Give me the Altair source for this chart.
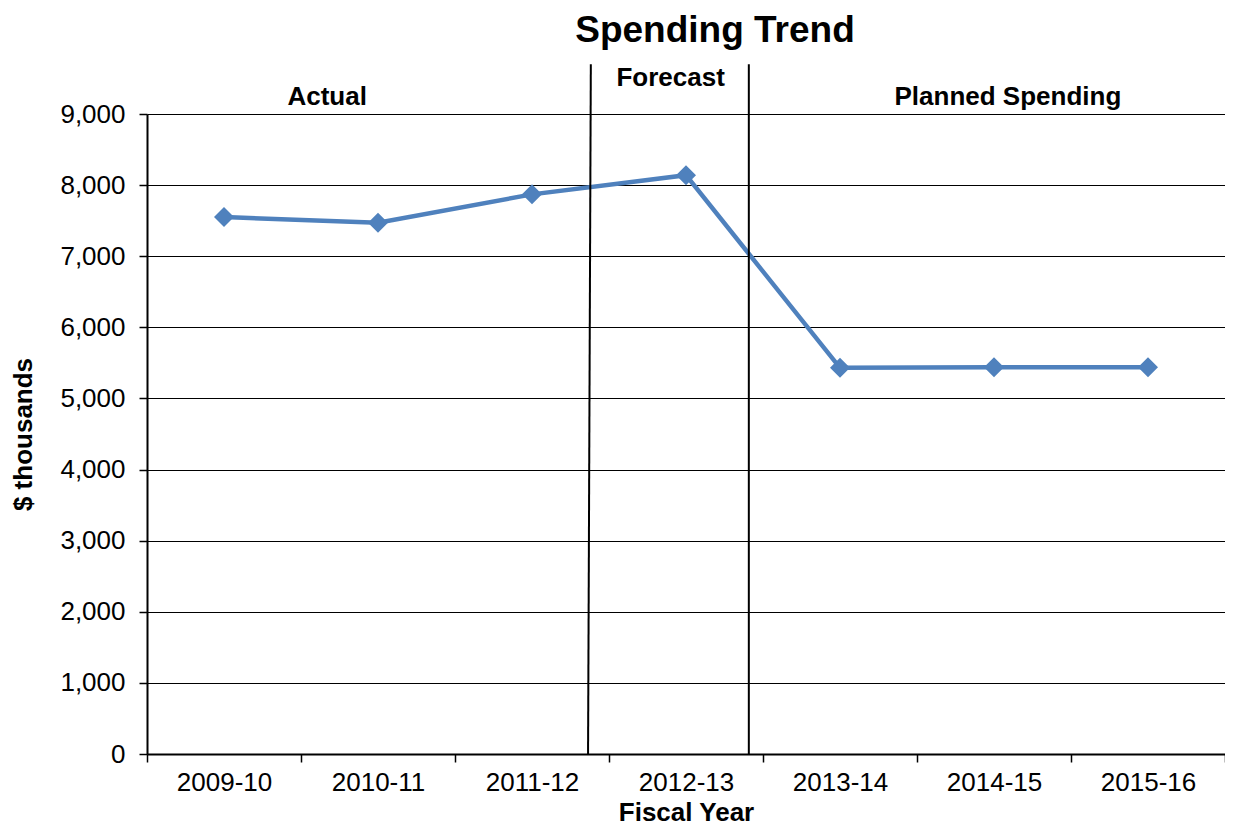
import altair as alt
import pandas as pd

# Data
years = ["2009-10", "2010-11", "2011-12", "2012-13", "2013-14", "2014-15", "2015-16"]
spending = [7550, 7470, 7870, 8140, 5430, 5440, 5440]

# Section dividers (in band units, 0..7 across the x axis) and labels
divider_top = [2.882, 3.908]
divider_bottom = [2.864, 3.908]
divider_ymax = [9700, 9700]
section_names = ["Actual", "Forecast", "Planned Spending"]
section_x = [1.17, 3.40, 5.59]
section_y = [9240, 9510, 9240]

FONT = "Liberation Sans"
BLUE = "#4F81BD"

df = pd.DataFrame({"year": years, "spending": spending})
div_df = pd.DataFrame({"xt": divider_top, "xb": divider_bottom, "yt": divider_ymax, "yb": [0, 0]})
lab_df = pd.DataFrame({"name": section_names, "x": section_x, "y": section_y})

yscale = alt.Scale(domain=[0, 9000], nice=False)

x_enc = alt.X(
    "year:N",
    sort=years,
    bandPosition=0.5,
    scale=alt.Scale(type="band", paddingInner=0, paddingOuter=0),
    axis=alt.Axis(
        title="Fiscal Year",
        tickBand="extent",
        labelAngle=0,
        labelFontSize=26,
        labelFont=FONT,
        labelColor="black",
        labelPadding=7,
        tickSize=8,
        tickColor="black",
        tickWidth=1.5,
        domainColor="black",
        domainWidth=2,
        titleFont=FONT,
        titleFontSize=26,
        titleFontWeight="bold",
        titleColor="black",
        titlePadding=4,
        grid=False,
    ),
)
y_enc = alt.Y(
    "spending:Q",
    scale=yscale,
    axis=alt.Axis(
        title="$ thousands",
        values=list(range(0, 9001, 1000)),
        format=",.0f",
        labelFontSize=26,
        labelFont=FONT,
        labelColor="black",
        labelPadding=14,
        tickSize=8,
        tickColor="black",
        tickWidth=1.5,
        domainColor="black",
        domainWidth=2,
        grid=True,
        gridColor="black",
        gridWidth=1,
        titleFont=FONT,
        titleFontSize=26,
        titleFontWeight="bold",
        titleColor="black",
        titlePadding=23,
    ),
)

base = alt.Chart(df).encode(x=x_enc, y=y_enc)
series = alt.layer(
    base.mark_line(color=BLUE, strokeWidth=4.5),
    base.mark_point(shape="diamond", filled=True, size=400, color=BLUE, opacity=1),
)

xq = alt.Scale(domain=[0, 7], nice=False, zero=False)
dividers = alt.Chart(div_df).mark_rule(color="black", strokeWidth=2).encode(
    x=alt.X("xt:Q", scale=xq, axis=None),
    x2="xb:Q",
    y=alt.Y("yt:Q", scale=yscale),
    y2="yb:Q",
)
labels = alt.Chart(lab_df).mark_text(
    font=FONT, fontSize=26, fontWeight="bold", color="black"
).encode(
    x=alt.X("x:Q", scale=xq, axis=None),
    y=alt.Y("y:Q", scale=yscale),
    text="name:N",
)

chart = (
    alt.layer(series, dividers, labels)
    .resolve_scale(x="independent")
    .properties(
        width=1078,
        height=640,
        autosize=alt.AutoSizeParams(type="none"),
        padding={"left": 139, "top": 106, "right": 0, "bottom": 72},
        title=alt.Title(
            "Spending Trend",
            font=FONT,
            fontSize=37,
            fontWeight="bold",
            color="black",
            anchor="middle",
            frame="group",
            dx=29,
            offset=13,
        ),
    )
    .configure_view(stroke=None)
    .configure(background="white")
)

chart.save("out.html", embed_options={"renderer": "svg", "actions": False})
